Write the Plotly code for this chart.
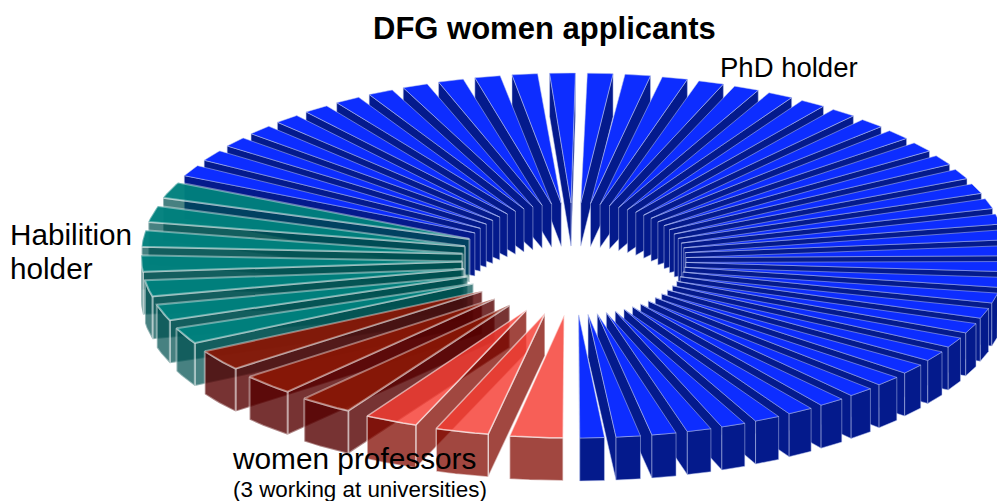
import math
import plotly.graph_objects as go

# Exploded pie data: slice sizes per group, counter-clockwise from the front
phd_holder = [0.96, 0.96, 0.96, 0.96, 0.96] + [1.0] * 42 + [1.1, 1.1]
habilitation_holder = [1.57] * 7
professors_other = [2.0, 2.0, 2.0]
professors_univ = [2.0, 2.0, 2.0]

title = "DFG women applicants"
label_phd = "PhD holder"
label_hab = ["Habilition", "holder"]
label_prof = "women professors"
label_prof_sub = "(3 working at universities)"

STYLE = {
    "phd": dict(top="#0d2dff", wall="#041a8c", edge="rgba(190,200,240,0.5)", ew=1),
    "hab": dict(top="rgba(0,128,125,0.97)", wall="rgba(0,80,80,0.72)", edge="rgba(255,255,255,0.4)", ew=2),
    "oth": dict(top="rgba(135,22,5,0.95)", wall="rgba(85,0,0,0.8)", edge="rgba(255,255,255,0.4)", ew=2),
    "uni": dict(top="rgba(245,60,50,0.82)", wall="rgba(130,10,0,0.75)", edge="rgba(255,255,255,0.55)", ew=1.5),
}

CX, CY_APEX, CY_OUT = 574, 259, 255.5
EX, EY = 112, 56
RX, RY = 321, 126.5
DEPTH = 43
START = -90.0
GAP = 0.2

groups = [("phd", phd_holder), ("hab", habilitation_holder),
          ("oth", professors_other), ("uni", professors_univ)]
total = sum(sum(v) for _, v in groups)

slices = []
ang = START
for name, vals in groups:
    for v in vals:
        d = 360.0 * v / total
        slices.append((name, ang, ang + d))
        ang += d


def apex(m):
    return CX + EX * math.cos(m), CY_APEX - EY * math.sin(m)


def outer(m, a):
    ax = CX + EX * math.cos(m) + RX * math.cos(a)
    ay = CY_OUT - EY * math.sin(m) - RY * math.sin(a)
    return ax, ay


fig = go.Figure()


def poly(pts, fill, line, width):
    xs = [p[0] for p in pts] + [pts[0][0]]
    ys = [p[1] for p in pts] + [pts[0][1]]
    fig.add_trace(go.Scatter(x=xs, y=ys, mode="lines", fill="toself", fillcolor=fill,
                             line=dict(color=line, width=width), hoverinfo="skip",
                             showlegend=False))


slices.sort(key=lambda s: -math.sin(math.radians((s[1] + s[2]) / 2)))
for name, a0d, a1d in slices:
    st = STYLE[name]
    a0, a1 = math.radians(a0d + GAP), math.radians(a1d - GAP)
    m = (a0 + a1) / 2
    ap = apex(m)
    # radial walls that face the viewer
    if math.cos(a0) > 0:
        o = outer(m, a0)
        poly([ap, o, (o[0], o[1] + DEPTH), (ap[0], ap[1] + DEPTH)], st["wall"], st["edge"], st["ew"])
    if math.cos(a1) < 0:
        o = outer(m, a1)
        poly([ap, o, (o[0], o[1] + DEPTH), (ap[0], ap[1] + DEPTH)], st["wall"], st["edge"], st["ew"])
    # outer rim wall, only the front part
    steps = [a0 + (a1 - a0) * i / 8 for i in range(9)]
    rim = [outer(m, a) for a in steps if math.sin(a) < 0.02]
    if len(rim) > 1:
        poly(rim + [(p[0], p[1] + DEPTH) for p in reversed(rim)], st["wall"], st["edge"], st["ew"])
    # top face
    poly([ap] + [outer(m, a) for a in steps], st["top"], st["edge"], st["ew"])

FONT = "Liberation Sans, Arial, sans-serif"


def note(text, x, y, size, bold=False, anchor="left"):
    fig.add_annotation(x=x, y=y, xref="x", yref="y", text=f"<b>{text}</b>" if bold else text,
                       showarrow=False, xanchor=anchor, yanchor="middle",
                       font=dict(family=FONT, size=size, color="black"))


note(title, 544, 28, 31, bold=True, anchor="center")
note(label_phd, 718, 67, 27.5)
note(label_hab[0], 8, 234, 29.7)
note(label_hab[1], 8, 268, 29.7)
note(label_prof, 230, 458, 29.8)
note(label_prof_sub, 231, 489, 22.4)

fig.update_layout(
    width=997, height=501, margin=dict(l=0, r=0, t=0, b=0),
    paper_bgcolor="white", plot_bgcolor="white",
    xaxis=dict(range=[0, 997], visible=False, fixedrange=True),
    yaxis=dict(range=[501, 0], visible=False, fixedrange=True),
)
fig.write_html("out.html", config={"displayModeBar": False},
               post_script="document.body.style.margin='0';document.body.style.overflow='hidden';")
